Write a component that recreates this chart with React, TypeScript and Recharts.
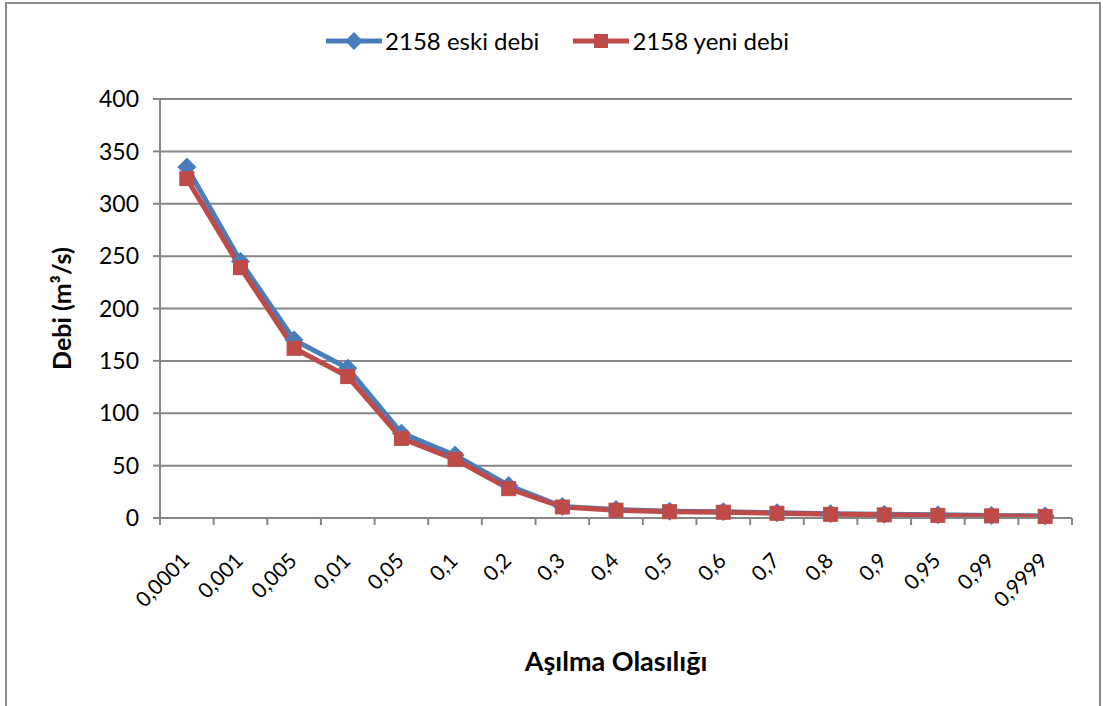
import React from 'react';
import { LineChart, Line, XAxis, YAxis, CartesianGrid } from 'recharts';

const categories = ['0,0001', '0,001', '0,005', '0,01', '0,05', '0,1', '0,2', '0,3', '0,4', '0,5', '0,6', '0,7', '0,8', '0,9', '0,95', '0,99', '0,9999'];
const eskiDebi = [335, 245, 170, 143, 81, 60, 31, 11, 8, 6.5, 6, 5, 4, 3.5, 3, 2.5, 2];
const yeniDebi = [324, 239, 162, 135, 76, 56, 28, 10.5, 7.5, 6, 5.5, 4.5, 3.5, 3, 2.5, 2, 1.5];
const yTicks = [0, 50, 100, 150, 200, 250, 300, 350, 400];

const seriesNames = ['2158 eski debi', '2158 yeni debi'];
const BLUE = '#4A7EBB';
const RED = '#BE4B48';
const GRID = '#868686';
const FONT = 'Lato, "Open Sans", sans-serif';

const data = categories.map((c, i) => ({ cat: c, eski: eskiDebi[i], yeni: yeniDebi[i] }));

const Diamond = (props: any) => {
  const { cx, cy } = props;
  if (cx == null || cy == null) return null;
  const s = 9;
  return <path d={`M${cx},${cy - s}L${cx + s},${cy}L${cx},${cy + s}L${cx - s},${cy}Z`} fill={BLUE} stroke={BLUE} strokeWidth={1} />;
};

const Square = (props: any) => {
  const { cx, cy } = props;
  if (cx == null || cy == null) return null;
  const s = 7;
  return <rect x={cx - s} y={cy - s} width={2 * s} height={2 * s} fill={RED} stroke={RED} strokeWidth={1} />;
};

const XTick = (props: any) => {
  const { x, y, payload, index } = props;
  const half = payload && payload.offset ? payload.offset : 0;
  const last = index === categories.length - 1;
  const ax = x + 4;
  const ay = y + 44;
  return (
    <g>
      <line x1={x - half} y1={y} x2={x - half} y2={y + 7} stroke={GRID} strokeWidth={2} />
      {last && <line x1={x + half} y1={y} x2={x + half} y2={y + 7} stroke={GRID} strokeWidth={2} />}
      <text x={ax} y={ay} textAnchor="end" fill="#000" fontFamily={FONT} fontSize={21} transform={`rotate(-45 ${ax} ${ay})`}>
        {payload.value}
      </text>
    </g>
  );
};

const LegendBox = () => (
  <div style={{ position: 'absolute', left: 0, top: 26, width: 1103, display: 'flex', justifyContent: 'center', alignItems: 'center', fontFamily: FONT, fontSize: 24, color: '#000', paddingLeft: 12, boxSizing: 'border-box' }}>
    <svg width={56} height={24} style={{ marginRight: 3 }}>
      <line x1={0} y1={12} x2={56} y2={12} stroke={BLUE} strokeWidth={5} />
      <path d="M28,3L37,12L28,21L19,12Z" fill={BLUE} />
    </svg>
    <span style={{ marginRight: 34 }}>{seriesNames[0]}</span>
    <svg width={56} height={24} style={{ marginRight: 3 }}>
      <line x1={0} y1={12} x2={56} y2={12} stroke={RED} strokeWidth={5} />
      <rect x={21} y={5} width={14} height={14} fill={RED} />
    </svg>
    <span>{seriesNames[1]}</span>
  </div>
);

export default function App() {
  return (
    <div style={{ position: 'absolute', left: 0, top: 0, width: 1103, height: 706, background: '#fff', overflow: 'hidden' }}>
      <div style={{ position: 'absolute', left: 5, top: 2, width: 1096, height: 720, border: '2px solid #8a8a8a', boxSizing: 'border-box' }} />
      <LegendBox />
      <div style={{ position: 'absolute', left: 0, top: 0 }}>
        <LineChart width={1103} height={706} data={data} margin={{ top: 99, right: 31, bottom: 0, left: 0 }}>
          <CartesianGrid vertical={false} stroke={GRID} strokeWidth={2} />
          <XAxis
            dataKey="cat"
            scale="band"
            interval={0}
            tickLine={false}
            tickSize={0}
            tickMargin={0}
            axisLine={{ stroke: GRID, strokeWidth: 2 }}
            tick={<XTick />}
            height={188}
            label={{ value: 'Aşılma Olasılığı', position: 'insideBottom', offset: 35, style: { fontFamily: FONT, fontSize: 27, fontWeight: 700, fill: '#000' } }}
          />
          <YAxis
            domain={[0, 400]}
            ticks={yTicks}
            interval={0}
            width={160}
            tickSize={7}
            tickMargin={14}
            axisLine={{ stroke: GRID, strokeWidth: 2 }}
            tickLine={{ stroke: GRID, strokeWidth: 2 }}
            tick={{ fontFamily: FONT, fontSize: 23, fill: '#000' }}
            label={{ value: 'Debi (m³/s)', angle: -90, position: 'insideLeft', offset: 62, style: { fontFamily: FONT, fontSize: 25, fontWeight: 700, fill: '#000', textAnchor: 'middle' } }}
          />
          <Line type="linear" dataKey="eski" stroke={BLUE} strokeWidth={5} dot={<Diamond />} isAnimationActive={false} />
          <Line type="linear" dataKey="yeni" stroke={RED} strokeWidth={5} dot={<Square />} isAnimationActive={false} />
        </LineChart>
      </div>
    </div>
  );
}
